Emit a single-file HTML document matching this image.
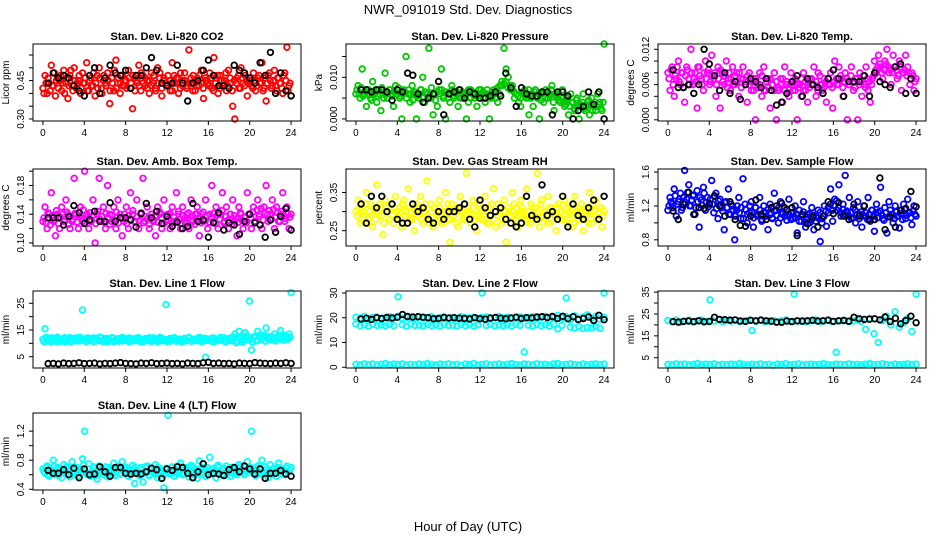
<!DOCTYPE html>
<html><head><meta charset="utf-8"><style>
html,body{margin:0;padding:0;background:#fff;}
svg{display:block;font-family:"Liberation Sans",Arial,sans-serif;}
</style></head><body>
<svg id="chart" width="936" height="540" viewBox="0 0 936 540">
<rect width="936" height="540" fill="#fff"/>
<text x="468" y="14" text-anchor="middle" font-size="13">NWR_091019  Std. Dev. Diagnostics</text>
<text x="468" y="531" text-anchor="middle" font-size="13">Hour of Day (UTC)</text>
</svg>
<script>
const xTicks = [0,4,8,12,16,20,24];

const co2Color = [0.42,0.47,0.40,0.44,0.51,0.43,0.39,0.46,0.45,0.41,0.49,0.44,0.38,0.47,0.43,0.50,0.42,0.45,0.40,0.48,
0.44,0.52,0.41,0.46,0.43,0.39,0.47,0.50,0.42,0.45,0.44,0.48,0.36,0.46,0.41,0.53,0.44,0.40,0.47,0.43,
0.45,0.49,0.42,0.34,0.46,0.44,0.51,0.41,0.47,0.43,0.45,0.40,0.48,0.44,0.42,0.50,0.46,0.39,0.45,0.43,
0.47,0.41,0.52,0.44,0.46,0.40,0.48,0.43,0.45,0.42,0.57,0.44,0.47,0.41,0.46,0.43,0.49,0.38,0.45,0.44,
0.48,0.42,0.54,0.46,0.40,0.47,0.43,0.45,0.41,0.49,0.44,0.35,0.30,0.46,0.42,0.50,0.44,0.47,0.39,0.45,
0.43,0.48,0.41,0.46,0.44,0.52,0.42,0.37,0.47,0.45,0.43,0.49,0.41,0.46,0.44,0.40,0.48,0.58,0.43,0.39];
const co2Color2 = [0.40,0.44,0.46,0.41,0.43,0.48,0.45,0.42,0.47,0.44,0.40,0.46,0.43,0.49,0.41,0.45,0.44,0.47,0.42,0.44,
0.46,0.41,0.45,0.43,0.48,0.44,0.42,0.46,0.40,0.47,0.43,0.45,0.41,0.44,0.49,0.42,0.46,0.44,0.43,0.45,
0.42,0.46,0.44,0.47,0.41,0.45,0.43,0.48,0.44,0.46,0.42,0.45,0.43,0.47,0.41,0.44,0.48,0.42,0.46,0.44,
0.43,0.45,0.41,0.47,0.44,0.46,0.42,0.45,0.48,0.43,0.44,0.46,0.41,0.45,0.43,0.47,0.44,0.42,0.46,0.45,
0.43,0.46,0.41,0.44,0.47,0.42,0.45,0.44,0.48,0.43,0.46,0.41,0.45,0.44,0.47,0.42,0.46,0.43,0.45,0.44,
0.46,0.42,0.45,0.43,0.47,0.44,0.41,0.46,0.44,0.48,0.42,0.45,0.43,0.46,0.44,0.42,0.47,0.45,0.41,0.44];
const co2Black = [0.44,0.48,0.46,0.47,0.46,0.43,0.41,0.39,0.47,0.50,0.40,0.46,0.51,0.48,0.47,0.49,0.42,0.47,0.47,0.50,0.54,0.49,0.44,0.43,0.44,0.51,0.44,0.37,0.44,0.45,0.49,0.53,0.47,0.43,0.43,0.42,0.51,0.49,0.48,0.46,0.44,0.52,0.47,0.56,0.40,0.48,0.41,0.39];

const presColor = [0.006,0.008,0.005,0.012,0.006,0.003,0.007,0.005,0.009,0.006,0.004,0.007,0.002,0.006,0.011,0.005,0.007,0.006,0.003,0.008,
0.006,0.005,0.0,0.007,0.015,0.006,0.004,0.008,0.006,0.0,0.005,0.007,0.010,0.004,0.006,0.017,0.005,0.001,0.006,0.003,
0.007,0.012,0.005,0.0,0.006,0.004,0.008,0.005,0.006,0.003,0.007,0.005,0.006,0.0,0.004,0.007,0.006,0.005,0.003,0.006,
0.007,0.005,0.004,0.006,0.0,0.005,0.007,0.006,0.004,0.008,0.009,0.017,0.012,0.010,0.007,0.008,0.005,0.006,0.004,0.003,
0.006,0.007,0.005,0.001,0.006,0.003,0.007,0.005,0.0,0.006,0.004,0.007,0.005,0.006,0.008,0.002,0.006,0.005,0.004,0.007,
0.003,0.005,0.001,0.006,0.004,0.002,0.005,0.0,0.003,0.006,0.002,0.004,0.001,0.005,0.003,0.002,0.006,0.004,0.002,0.018];
const presColor2 = [0.007,0.006,0.0075,0.0055,0.0065,0.007,0.006,0.0045,0.0065,0.007,0.0055,0.006,0.0075,0.005,0.0065,0.006,0.007,0.0055,0.0065,0.006,
0.0075,0.0055,0.006,0.0065,0.005,0.007,0.006,0.0045,0.0065,0.0055,0.006,0.007,0.005,0.0065,0.006,0.0055,0.0075,0.006,0.0045,0.0065,
0.006,0.007,0.0055,0.0065,0.005,0.006,0.007,0.0055,0.0065,0.006,0.005,0.0065,0.0055,0.006,0.007,0.005,0.0065,0.006,0.0055,0.007,
0.006,0.0065,0.005,0.007,0.0055,0.006,0.0065,0.005,0.0075,0.006,0.008,0.0085,0.009,0.0075,0.008,0.007,0.0065,0.006,0.0055,0.005,
0.0065,0.006,0.0055,0.007,0.005,0.006,0.0065,0.0055,0.006,0.0045,0.0065,0.005,0.006,0.0055,0.007,0.004,0.0055,0.006,0.0045,0.005,
0.004,0.0035,0.0045,0.003,0.004,0.0025,0.0045,0.003,0.0035,0.004,0.0025,0.003,0.0045,0.0035,0.002,0.004,0.003,0.0035,0.0025,0.004];
const presBlack = [0.007,0.007,0.0065,0.007,0.007,0.0065,0.0045,0.007,0.0065,0.011,0.0105,0.006,0.004,0.005,0.006,0.009,0.001,0.006,0.0065,0.007,0.005,0.0065,0.006,0.005,0.005,0.0055,0.0065,0.0055,0.011,0.0075,0.003,0.0075,0.006,0.0055,0.0055,0.0065,0.0065,0.001,0.0065,0.0065,0.0055,0.0,0.002,0.003,0.0065,0.0035,0.0065,0.0];

const tempColor = [0.008,0.005,0.009,0.004,0.007,0.010,0.006,0.008,0.003,0.009,0.007,0.012,0.006,0.008,0.002,0.009,0.007,0.005,0.010,0.008,
0.006,0.011,0.007,0.004,0.009,0.002,0.008,0.006,0.010,0.007,0.005,0.009,0.006,0.008,0.004,0.007,0.009,0.006,0.003,0.008,
0.005,0.007,0.0,0.006,0.008,0.004,0.009,0.005,0.007,0.002,0.006,0.008,0.0,0.005,0.007,0.003,0.009,0.006,0.004,0.008,
0.005,0.007,0.0,0.006,0.004,0.008,0.005,0.003,0.007,0.006,0.009,0.004,0.008,0.006,0.005,0.007,0.003,0.006,0.008,0.002,
0.010,0.006,0.009,0.007,0.004,0.008,0.0,0.006,0.009,0.005,0.007,0.0,0.008,0.004,0.006,0.009,0.005,0.003,0.007,0.010,
0.008,0.011,0.009,0.007,0.010,0.012,0.008,0.006,0.011,0.009,0.007,0.010,0.005,0.008,0.011,0.009,0.006,0.008,0.005,0.007];
const tempColor2 = [0.007,0.0085,0.006,0.0075,0.009,0.0065,0.008,0.0055,0.0075,0.0085,0.006,0.008,0.007,0.0065,0.009,0.0075,0.006,0.008,0.007,0.0085,
0.0065,0.0075,0.008,0.006,0.007,0.0085,0.0065,0.0075,0.0055,0.008,0.007,0.006,0.0075,0.0065,0.008,0.0055,0.007,0.0065,0.0075,0.006,
0.0065,0.005,0.007,0.0055,0.006,0.0075,0.005,0.0065,0.0055,0.007,0.006,0.005,0.0065,0.0055,0.006,0.007,0.005,0.0065,0.0055,0.006,
0.0065,0.005,0.006,0.0055,0.007,0.005,0.0065,0.006,0.0055,0.007,0.006,0.0065,0.005,0.0075,0.006,0.0055,0.0065,0.007,0.006,0.0055,
0.0065,0.007,0.006,0.0075,0.0055,0.0065,0.007,0.006,0.0075,0.0065,0.0055,0.007,0.006,0.0065,0.0075,0.0055,0.007,0.0065,0.006,0.0075,
0.0085,0.009,0.0095,0.008,0.0085,0.0095,0.009,0.0085,0.008,0.009,0.0085,0.0075,0.009,0.008,0.0085,0.0075,0.008,0.007,0.0075,0.0065];
const tempBlack = [0.0085,0.0055,0.0055,0.006,0.0045,0.006,0.012,0.0095,0.0075,0.005,0.008,0.0045,0.0065,0.0035,0.006,0.007,0.0065,0.0055,0.007,0.005,0.0025,0.003,0.0045,0.0065,0.0075,0.004,0.007,0.006,0.0055,0.0045,0.007,0.0085,0.007,0.004,0.0065,0.0065,0.0065,0.0075,0.004,0.008,0.0065,0.006,0.0055,0.009,0.0095,0.0045,0.007,0.0045];

const ambColor = [0.13,0.15,0.12,0.14,0.17,0.13,0.11,0.14,0.12,0.15,0.13,0.16,0.14,0.12,0.13,0.19,0.14,0.12,0.15,0.13,
0.20,0.14,0.12,0.13,0.16,0.10,0.14,0.19,0.13,0.15,0.12,0.18,0.14,0.13,0.15,0.12,0.16,0.14,0.11,0.13,
0.15,0.12,0.17,0.14,0.13,0.16,0.12,0.14,0.19,0.13,0.15,0.12,0.14,0.13,0.11,0.15,0.14,0.12,0.16,0.13,
0.14,0.12,0.15,0.13,0.17,0.14,0.12,0.15,0.13,0.14,0.12,0.16,0.13,0.14,0.15,0.11,0.14,0.13,0.16,0.12,
0.14,0.18,0.13,0.15,0.12,0.14,0.17,0.13,0.15,0.12,0.14,0.16,0.13,0.11,0.15,0.14,0.12,0.13,0.17,0.14,
0.12,0.15,0.13,0.16,0.14,0.12,0.15,0.18,0.13,0.14,0.16,0.12,0.15,0.13,0.14,0.17,0.13,0.15,0.12,0.14];
const ambColor2 = [0.135,0.128,0.142,0.125,0.138,0.132,0.145,0.127,0.136,0.14,0.13,0.143,0.126,0.137,0.133,0.141,0.129,0.138,0.134,0.146,
0.128,0.136,0.142,0.131,0.139,0.127,0.144,0.133,0.137,0.129,0.141,0.135,0.126,0.139,0.132,0.143,0.128,0.136,0.134,0.14,
0.127,0.138,0.133,0.145,0.129,0.136,0.131,0.142,0.128,0.137,0.134,0.126,0.14,0.132,0.138,0.129,0.143,0.135,0.127,0.139,
0.133,0.141,0.128,0.136,0.131,0.144,0.127,0.138,0.134,0.129,0.142,0.132,0.137,0.126,0.14,0.135,0.128,0.143,0.131,0.138,
0.129,0.136,0.141,0.127,0.139,0.133,0.145,0.128,0.137,0.132,0.14,0.126,0.138,0.134,0.129,0.142,0.131,0.136,0.128,0.14,
0.135,0.143,0.13,0.146,0.137,0.148,0.132,0.141,0.139,0.145,0.133,0.147,0.136,0.142,0.13,0.144,0.138,0.134,0.141,0.136];
const ambBlack = [0.135,0.135,0.135,0.125,0.137,0.152,0.142,0.127,0.132,0.144,0.13,0.13,0.156,0.13,0.135,0.135,0.132,0.122,0.141,0.155,0.135,0.144,0.127,0.137,0.123,0.129,0.12,0.123,0.155,0.13,0.132,0.108,0.128,0.142,0.118,0.128,0.125,0.112,0.13,0.14,0.128,0.125,0.108,0.132,0.115,0.137,0.148,0.118];

const rhColor = [0.30,0.33,0.27,0.31,0.29,0.35,0.28,0.32,0.26,0.30,0.37,0.29,0.31,0.24,0.33,0.30,0.28,0.32,0.27,0.34,
0.29,0.31,0.26,0.33,0.30,0.36,0.28,0.31,0.25,0.32,0.29,0.34,0.27,0.30,0.38,0.28,0.32,0.26,0.31,0.29,
0.33,0.27,0.30,0.35,0.28,0.22,0.32,0.29,0.31,0.26,0.34,0.30,0.28,0.40,0.31,0.27,0.33,0.29,0.25,0.32,
0.30,0.28,0.34,0.27,0.31,0.29,0.36,0.26,0.32,0.30,0.28,0.33,0.22,0.30,0.27,0.35,0.29,0.31,0.26,0.33,
0.30,0.28,0.36,0.27,0.32,0.29,0.31,0.40,0.26,0.33,0.30,0.28,0.34,0.27,0.31,0.29,0.25,0.32,0.30,0.28,
0.33,0.27,0.31,0.29,0.26,0.34,0.30,0.28,0.32,0.25,0.31,0.29,0.35,0.27,0.30,0.33,0.28,0.31,0.26,0.30];
const rhColor2 = [0.29,0.31,0.28,0.30,0.32,0.27,0.30,0.29,0.31,0.28,0.30,0.32,0.29,0.27,0.31,0.30,0.28,0.29,0.31,0.30,
0.28,0.30,0.32,0.29,0.27,0.31,0.30,0.28,0.30,0.29,0.31,0.28,0.30,0.32,0.29,0.27,0.30,0.31,0.28,0.30,
0.31,0.29,0.27,0.30,0.32,0.28,0.30,0.29,0.27,0.31,0.30,0.28,0.32,0.29,0.30,0.27,0.31,0.28,0.30,0.29,
0.28,0.31,0.29,0.30,0.27,0.32,0.28,0.30,0.29,0.31,0.27,0.30,0.28,0.31,0.29,0.30,0.32,0.28,0.29,0.30,
0.31,0.29,0.28,0.30,0.27,0.31,0.29,0.30,0.28,0.32,0.29,0.30,0.27,0.31,0.28,0.30,0.29,0.31,0.28,0.30,
0.29,0.31,0.28,0.30,0.32,0.27,0.29,0.31,0.30,0.28,0.29,0.31,0.27,0.30,0.32,0.29,0.28,0.30,0.31,0.29];
const rhBlack = [0.32,0.27,0.34,0.31,0.34,0.30,0.32,0.28,0.27,0.27,0.32,0.30,0.31,0.28,0.27,0.30,0.28,0.30,0.30,0.31,0.32,0.28,0.26,0.33,0.31,0.29,0.30,0.31,0.28,0.27,0.26,0.27,0.34,0.29,0.28,0.37,0.29,0.30,0.28,0.34,0.26,0.32,0.29,0.28,0.31,0.33,0.28,0.34];

const flowColor = [1.15,1.30,1.22,1.40,1.08,1.25,1.35,1.18,1.62,1.28,1.45,1.20,1.32,1.10,1.38,0.95,1.27,1.42,1.15,1.30,
1.22,1.50,1.12,1.35,1.05,1.28,1.18,0.92,1.25,1.40,1.10,1.20,0.80,1.15,1.30,1.05,1.52,1.22,1.00,1.12,
1.25,0.95,1.18,1.08,1.30,1.02,1.20,1.12,0.92,1.22,1.06,1.35,1.15,1.00,1.25,1.10,1.18,1.03,1.28,1.12,
1.05,1.20,0.88,1.15,1.02,1.25,0.95,1.10,1.00,1.18,0.92,1.08,1.15,0.78,1.05,1.20,0.96,1.12,1.40,1.02,
1.28,1.15,1.45,1.08,1.22,1.56,1.12,1.30,1.05,1.18,1.00,1.25,1.10,0.95,1.20,1.08,1.30,1.02,1.15,0.90,
1.22,1.12,1.42,1.05,1.18,0.88,1.25,1.10,1.00,1.20,1.08,0.94,1.15,1.22,1.05,1.28,1.12,0.98,1.20,1.08];
const flowColor2 = [1.20,1.25,1.18,1.32,1.22,1.28,1.15,1.30,1.24,1.36,1.20,1.27,1.33,1.18,1.25,1.30,1.21,1.35,1.24,1.19,
1.28,1.22,1.31,1.17,1.26,1.20,1.14,1.24,1.18,1.10,1.22,1.15,1.08,1.20,1.12,1.18,1.05,1.16,1.10,1.20,
1.12,1.06,1.18,1.10,1.15,1.04,1.13,1.08,1.16,1.10,1.05,1.14,1.09,1.18,1.06,1.12,1.08,1.15,1.10,1.04,
1.12,1.06,1.10,1.02,1.08,1.13,1.00,1.07,1.11,1.04,1.09,1.02,1.06,1.12,1.00,1.08,1.14,1.18,1.22,1.15,
1.20,1.26,1.18,1.12,1.16,1.10,1.14,1.08,1.12,1.06,1.15,1.10,1.05,1.13,1.08,1.12,1.04,1.10,1.15,1.08,
1.12,1.06,1.14,1.09,1.03,1.12,1.07,1.15,1.10,1.05,1.13,1.08,1.11,1.04,1.16,1.09,1.12,1.06,1.14,1.10];
const flowBlack = [1.14,1.04,1.22,1.36,1.10,1.18,1.17,1.23,1.32,1.20,1.08,1.25,1.04,0.97,0.96,1.08,1.27,1.10,1.04,1.18,1.20,1.23,1.16,1.18,0.85,1.10,0.99,1.07,0.95,1.08,1.25,1.11,1.24,1.08,1.04,1.22,1.08,1.20,1.04,1.04,1.53,0.92,1.07,0.95,1.15,1.17,1.37,1.19];

const line1Color = [11.5,15.5,11,12,10.5,11.8,11.2,12.3,10.8,11.5,11.9,10.6,11.4,12.1,11,11.7,10.9,11.3,12.2,22.5,
11.6,10.7,11.9,11.2,12,10.8,11.5,11.1,12.2,10.6,11.4,11.8,11,12.1,10.7,11.5,11.3,11.9,10.9,11.6,
11.2,12,10.8,11.4,11.7,11,12.1,10.6,11.5,11.2,11.8,10.9,11.3,12,11.1,10.7,11.6,11.9,11,24.5,
11.4,10.8,11.7,12.1,11,11.5,10.7,11.3,11.9,11.1,12.2,10.8,11.6,11.2,11.8,11,12,10.9,4.8,11.5,
11.3,11.9,10.7,11.6,11.1,12.2,11.4,10.8,11.7,11,12,11.3,13.5,10.9,14.5,12,11.2,14,12.5,25.8,
7.5,12.3,11,14.5,12,11.8,13,15.8,11.5,12.4,11.2,13.5,11.8,12.6,14.8,11.5,12.9,12.2,13.5,29];
const line1Color2 = [10.6,12.2,11.4,10.9,12.0,11.2,10.7,11.9,11.5,10.8,12.1,11.0,11.6,10.6,11.8,11.3,12.2,10.9,11.4,11.7,
10.8,12.0,11.2,11.6,10.7,11.9,11.1,12.3,10.9,11.5,11.8,10.6,11.3,12.1,11.0,11.7,10.8,11.4,12.2,11.1,
11.6,10.7,11.9,11.3,10.9,12.0,11.2,11.5,10.6,11.8,11.4,12.1,10.8,11.0,11.7,11.3,12.2,10.9,11.6,11.1,
10.7,11.9,11.4,12.0,10.8,11.2,11.6,10.6,11.8,11.3,12.1,10.9,11.5,11.0,11.7,12.2,10.7,11.4,11.9,11.1,
11.6,10.8,12.0,11.3,10.9,11.7,11.2,12.1,10.6,11.5,11.9,11.0,12.3,10.2,11.8,12.5,10.5,11.6,12.8,11.2,
12.0,10.4,12.6,11.0,13.0,11.5,12.2,10.8,12.7,11.3,12.4,11.8,10.9,12.5,11.6,13.1,11.2,12.0,11.5,12.3];
const line1Black = [2.4,2.5,2.3,2.6,2.4,2.5,2.7,2.4,2.5,2.6,2.3,2.5,2.4,2.6,2.8,2.5,2.4,2.3,2.6,2.5,2.7,2.4,2.5,2.6,2.4,2.5,2.3,2.6,2.5,2.4,2.7,2.9,2.5,2.6,2.4,2.5,2.3,2.6,2.5,2.4,2.8,2.6,2.5,2.4,2.6,2.5,2.7,2.5];

const line2ColorMid = [17.5,16.8,17.2,16.6,17.4,16.9,17.1,16.7,17.3,16.8,28.5,17.2,16.6,17.4,16.9,17,16.7,17.3,16.8,17.1,
16.6,17.4,16.9,17,16.7,17.3,16.8,17.2,16.6,17.1,30,16.9,17.3,16.7,17.1,16.8,17.2,16.6,17.4,16.9,
6.2,17,16.7,17.3,16.8,17.2,16.6,17.4,15.5,16.9,28,16.2,15.8,16.5,15.6,16.1,15.9,16.4,15.7,30];
const line2ColorHigh = [20.2,19.8,20.5,19.6,20.1,20.3,19.7,20,20.4,19.9,20.6,19.8,20.2,20,19.7,20.3,19.9,20.1,20.5,19.6,
20,20.3,19.8,20.1,19.7,20.4,20,19.9,20.2,19.8,20.1,20.3,19.7,20,20.5,19.9,20.2,19.8,20.1,20.3,
19.9,20,20.4,19.7,20.2,20.6,19.5,20.1,21,19.8,20.5,19.2,20.8,19.5,20.3,21.2,19.8,20.6,19.4,20.2];
const line2ColorLow = [1.2,1.0,1.4,1.1,1.3,0.9,1.2,1.5,1.0,1.3,1.1,1.4,0.9,1.2,1.0,1.3,1.1,1.5,1.2,0.9,
1.3,1.1,1.4,1.0,1.2,0.8,1.3,1.1,1.5,1.0,1.2,1.4,0.9,1.1,1.3,1.0,1.2,1.5,1.1,0.9,
1.3,1.2,1.0,1.4,1.1,1.2,0.9,1.3,1.5,1.0,1.2,1.4,1.1,0.9,1.3,1.0,1.2,1.4,1.1,1.3];
const line2Black = [19.5,19.8,19.3,20,19.7,20.1,19.9,20.2,21.3,20.5,20.3,20.4,20.2,20,19.6,19.7,20.1,19.9,20,19.8,19.7,19.5,20,19.6,19.4,19.9,20.1,19.8,19.6,19.9,20.2,19.7,20,19.9,20.3,20.4,20.1,20.5,19.7,20.6,19.6,20.4,19.3,19.7,20.3,18.9,21,19.2];

const line3ColorHigh = [22,21.5,22.3,21.2,21.8,22.1,21.4,21.9,22.2,21.6,31.5,21.8,22.4,21.5,22,21.7,22.3,21.4,21.9,22.1,
17.5,21.6,22.2,21.5,21.8,22,21.3,21.9,22.2,21.6,34,21.7,22.1,21.4,21.9,22.3,21.5,21.8,22,21.6,
7.5,21.9,22.2,21.5,21.8,22.4,21.6,18,23,16,12,22,24,20,26,19,21,23,17,34];
const line3ColorLow = [2.0,1.8,2.2,1.9,2.1,1.7,2.0,2.3,1.8,2.1,1.9,2.2,1.7,2.0,1.8,2.1,1.9,2.3,2.0,1.7,
2.1,1.9,2.2,1.8,2.0,1.6,2.1,1.9,2.3,1.8,2.0,2.2,1.7,1.9,2.1,1.8,2.0,2.3,1.9,1.7,
2.1,2.0,1.8,2.2,1.9,2.0,1.7,2.1,2.3,1.8,2.0,2.2,1.9,1.7,2.1,1.8,2.0,2.2,1.9,2.1];
const line3Black = [21.5,21.3,21.6,21.8,21.5,21.9,21.4,21.6,23.5,22.5,22.4,22.2,22.3,21.8,21.6,22.1,21.9,22.2,21.9,21.7,21.3,21.2,21.8,21.5,21.9,21.7,21.9,22.1,21.8,21.9,22.2,21.6,21.9,22,21.7,23.5,22.8,22.5,22.6,22.8,22.3,23.6,21.5,23,20.5,22,24,21];

const line4Color = [0.68,0.62,0.72,0.58,0.66,0.80,0.60,0.70,0.64,0.56,0.74,0.62,0.68,0.57,0.78,0.63,0.70,0.59,0.66,0.82,
1.20,0.62,0.75,0.58,0.69,0.64,0.54,0.72,0.66,0.60,0.71,0.57,0.67,0.63,0.76,0.59,0.68,0.62,0.78,0.65,
0.70,0.58,0.64,0.73,0.48,0.66,0.61,0.70,0.50,0.64,0.72,0.59,0.67,0.62,0.74,0.56,0.69,0.63,0.42,0.68,
1.42,0.64,0.71,0.58,0.67,0.62,0.76,0.60,0.69,0.65,0.57,0.73,0.63,0.68,0.55,0.79,0.62,0.70,0.58,0.66,
0.84,0.61,0.69,0.56,0.73,0.64,0.67,0.59,0.72,0.63,0.58,0.70,0.65,0.60,0.74,0.66,0.62,0.71,0.78,0.64,
1.20,0.68,0.59,0.72,0.63,0.80,0.60,0.67,0.56,0.74,0.64,0.69,0.58,0.76,0.62,0.68,0.60,0.72,0.64,0.70];
const line4Color2 = [0.64,0.70,0.60,0.67,0.62,0.72,0.65,0.59,0.69,0.63,0.66,0.71,0.61,0.68,0.64,0.60,0.70,0.66,0.62,0.73,
0.65,0.60,0.68,0.63,0.71,0.59,0.66,0.62,0.69,0.64,0.61,0.70,0.65,0.60,0.67,0.63,0.72,0.61,0.66,0.69,
0.62,0.68,0.60,0.65,0.70,0.63,0.59,0.67,0.62,0.71,0.64,0.60,0.68,0.65,0.61,0.70,0.63,0.66,0.60,0.69,
0.64,0.61,0.70,0.66,0.62,0.72,0.64,0.68,0.61,0.70,0.66,0.63,0.71,0.60,0.67,0.64,0.69,0.62,0.66,0.70,
0.63,0.68,0.61,0.66,0.71,0.64,0.60,0.69,0.65,0.62,0.70,0.66,0.61,0.68,0.63,0.71,0.65,0.60,0.67,0.64,
0.70,0.62,0.66,0.69,0.61,0.67,0.64,0.71,0.62,0.66,0.60,0.68,0.65,0.70,0.63,0.66,0.61,0.69,0.64,0.67];
const line4Black = [0.66,0.62,0.62,0.67,0.60,0.69,0.56,0.68,0.60,0.61,0.71,0.64,0.58,0.70,0.70,0.62,0.61,0.62,0.61,0.64,0.69,0.67,0.55,0.68,0.66,0.71,0.70,0.62,0.56,0.64,0.75,0.60,0.62,0.61,0.59,0.67,0.70,0.64,0.72,0.68,0.61,0.68,0.55,0.62,0.62,0.66,0.61,0.58];

const panelTitles = ["Stan. Dev. Li-820 CO2","Stan. Dev. Li-820 Pressure","Stan. Dev. Li-820 Temp.","Stan. Dev. Amb. Box Temp.","Stan. Dev. Gas Stream RH","Stan. Dev. Sample Flow","Stan. Dev. Line 1 Flow","Stan. Dev. Line 2 Flow","Stan. Dev. Line 3 Flow","Stan. Dev. Line 4 (LT) Flow"];
const yTitles = ["Licor ppm","kPa","degrees C","degrees C","percent","ml/min","ml/min","ml/min","ml/min","ml/min"];
const yTicks = [[0.30,0.35,0.40,0.45,0.50,0.55],[0,0.005,0.010,0.015],[0,0.002,0.004,0.006,0.008,0.010,0.012],[0.10,0.12,0.14,0.16,0.18,0.20],[0.25,0.30,0.35],[0.8,1.0,1.2,1.4,1.6],[5,10,15,20,25],[0,10,20,30],[5,10,15,20,25,30,35],[0.4,0.6,0.8,1.0,1.2]];
const yTickLabels = [["0.30","","","0.45","",""],["0.000","","0.010",""],["0.000","","","0.006","","","0.012"],["0.10","","0.14","","0.18",""],["0.25","","0.35"],["0.8","","1.2","","1.6"],["5","","15","","25"],["0","10","20","30"],["5","","15","","25","","35"],["0.4","","0.8","","1.2"]];
const yLims = [[0.292,0.593],[-0.0005,0.018],[-0.0002,0.0129],[0.0957,0.203],[0.21,0.4115],[0.727,1.636],[0.77,29.6],[-0.3,30.8],[0.3,35.5],[0.39,1.45]];

const C_RED="#ff0000",C_GRN="#00c800",C_MAG="#ff00ff",C_YEL="#ffff00",C_BLU="#0000ff",C_CYN="#00ffff";
const panelSeries = [
 [[co2Color,C_RED,0,24],[co2Color2,C_RED,0.1,23.9],[co2Black,"#000",0.5,24]],
 [[presColor,C_GRN,0,24],[presColor2,C_GRN,0.1,23.9],[presBlack,"#000",0.5,24]],
 [[tempColor,C_MAG,0,24],[tempColor2,C_MAG,0.1,23.9],[tempBlack,"#000",0.5,24]],
 [[ambColor,C_MAG,0,24],[ambColor2,C_MAG,0.1,23.9],[ambBlack,"#000",0.5,24]],
 [[rhColor,C_YEL,0,24],[rhColor2,C_YEL,0.1,23.9],[rhBlack,"#000",0.5,24]],
 [[flowColor,C_BLU,0,24],[flowColor2,C_BLU,0.1,23.9],[flowBlack,"#000",0.5,24]],
 [[line1Color,C_CYN,0,24],[line1Color2,C_CYN,0.1,23.9],[line1Black,"#000",0.5,24]],
 [[line2ColorMid,C_CYN,0,24],[line2ColorHigh,C_CYN,0,24],[line2ColorLow,C_CYN,0,24],[line2Black,"#000",0.5,24]],
 [[line3ColorHigh,C_CYN,0,24],[line3ColorLow,C_CYN,0,24],[line3Black,"#000",0.5,24]],
 [[line4Color,C_CYN,0,24],[line4Color2,C_CYN,0.1,23.9],[line4Black,"#000",0.5,24]]
];

const NS="http://www.w3.org/2000/svg";
const svg=document.getElementById('chart');
function mk(tag,attrs,parent){const e=document.createElementNS(NS,tag);for(const k in attrs)e.setAttribute(k,attrs[k]);(parent||svg).appendChild(e);return e;}
const colLeft=[33,346,658], rowTop=[44,169,291,413], boxW=268, boxH=77;
const xMin=-0.96,xMax=24.96;

panelSeries.forEach((series,p)=>{
  const col=p%3,row=Math.floor(p/3);
  const L=colLeft[col],T=rowTop[row],B=T+boxH,R=L+boxW;
  const [y0,y1]=yLims[p];
  const xs=v=>L+(v-xMin)/(xMax-xMin)*boxW;
  const ys=v=>B-(v-y0)/(y1-y0)*boxH;
  const g=mk('g',{});
  
  
  const t=mk('text',{x:(L+R)/2,y:T-4,'text-anchor':'middle','font-size':'11','font-weight':'bold'},g);
  t.textContent=panelTitles[p];
  
  
  const yt=mk('text',{x:L-24,y:(T+B)/2,'text-anchor':'middle','font-size':'10',transform:`rotate(-90 ${L-24} ${(T+B)/2})`},g);
  yt.textContent=yTitles[p];
  
  
  const marks=mk('g',{fill:'none','stroke-width':'1.8'},g);
  
  
  series.forEach(([vals,color,xa,xb])=>{
    const n=vals.length;
    vals.forEach((v,i)=>{
      const h=xa+(xb-xa)*i/(n-1);
      const c=mk('circle',{cx:xs(h).toFixed(1),cy:ys(v).toFixed(1),r:'2.8',stroke:color},marks);
      
      
    });
  });
  const box=mk('rect',{x:L,y:T,width:boxW,height:boxH,fill:'none',stroke:'#000','stroke-width':'1'},g);
  
  
  const xa=mk('g',{},g);
  
  
  mk('line',{x1:xs(0),x2:xs(24),y1:B,y2:B,stroke:'#000'},xa);
  xTicks.forEach(v=>{
    mk('line',{x1:xs(v),x2:xs(v),y1:B,y2:B+4,stroke:'#000'},xa);
    const tl=mk('text',{x:xs(v),y:B+15,'text-anchor':'middle','font-size':'10'},xa);
    tl.textContent=v;
    
    
  });
  const ya=mk('g',{},g);
  
  
  const tk=yTicks[p];
  mk('line',{x1:L,x2:L,y1:ys(tk[0]),y2:ys(tk[tk.length-1]),stroke:'#000'},ya);
  tk.forEach((v,i)=>{
    mk('line',{x1:L-4,x2:L,y1:ys(v),y2:ys(v),stroke:'#000'},ya);
    const lab=yTickLabels[p][i];
    if(lab){
      const yy=ys(v);
      const tl=mk('text',{x:L-9,y:yy,'text-anchor':'middle','font-size':'10',transform:`rotate(-90 ${L-9} ${yy})`},ya);
      tl.textContent=lab;
      
      
    }
  });
});
</script>
</body></html>
